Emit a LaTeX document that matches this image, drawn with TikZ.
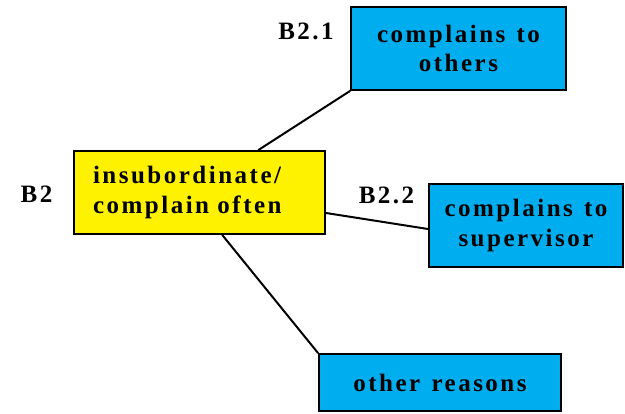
\documentclass[tikz,border=0pt]{standalone}
\usepackage{fontspec}
\setmainfont{Liberation Serif}[LetterSpace=10]
\usetikzlibrary{calc,backgrounds}
\definecolor{boxyellow}{RGB}{255,242,0}
\definecolor{boxblue}{RGB}{0,174,239}
% wider gaps between words
\newcommand\widewords{\setlength{\spaceskip}{0.45em}}
\begin{document}
\begin{tikzpicture}[x=1pt,y=-1pt,
  font={\fontsize{25}{29.5}\selectfont\bfseries\widewords},
  box/.style={draw=black,line width=2pt,inner sep=0pt,align=center},
  link/.style={line width=2pt,line cap=round},
  tag/.style={anchor=base,inner sep=0pt}]
\useasboundingbox (0,0) rectangle (625,414);
% boxes
\node[box,fill=boxyellow,minimum width=251pt,minimum height=83pt,
      text width=213pt,align=left] (yel) at (199.5,192.5)
      {insubordinate/\\complain often};
\node[box,fill=boxblue,minimum width=215pt,minimum height=83pt] (b21) at (458.5,48.5)
      {complains to\\others};
\node[box,fill=boxblue,minimum width=194pt,minimum height=83pt] (b22) at (526,225.5)
      {complains to\\supervisor};
\node[box,fill=boxblue,minimum width=242pt,minimum height=57pt] (oth) at (440,382.5)
      {other reasons};
% connectors, kept behind the boxes
\coordinate (yt) at ($(yel.north west)!0.733!(yel.north east)$);
\coordinate (yb) at ($(yel.south west)!0.59!(yel.south east)$);
\begin{scope}[on background layer]
\draw[link] (yt) -- (b21.south west);
\draw[link] ([yshift=-20.5pt]yel.east) -- ([yshift=-3.5pt]b22.west);
\draw[link] (yb) -- (oth.north west);
\end{scope}
% labels
\node[tag] (l2) at (36.5,203) {B2};
\node[tag] (l21) at (306,40) {B2.1};
\node[tag] (l22) at (386.5,204) {B2.2};
\end{tikzpicture}
\end{document}
